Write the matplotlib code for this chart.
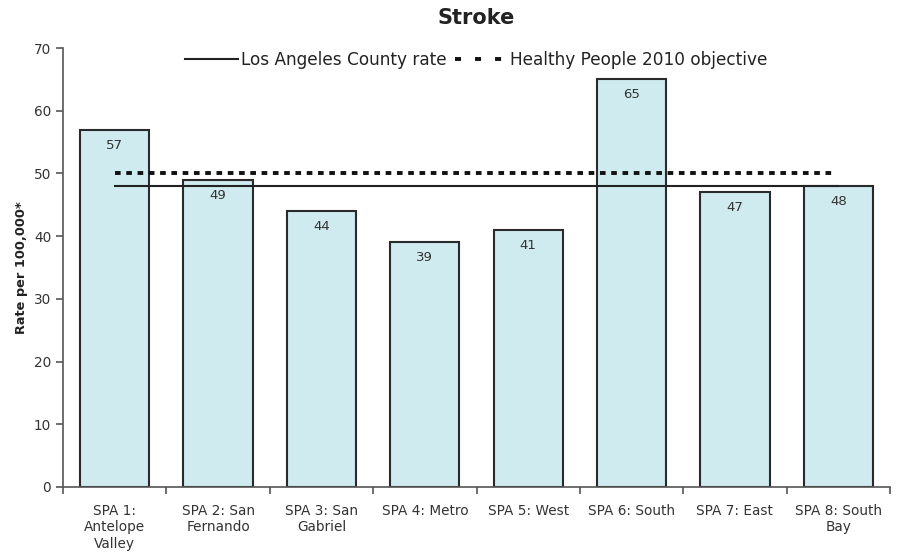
import matplotlib
matplotlib.use("Agg")
import matplotlib.pyplot as plt
from matplotlib.lines import Line2D
import numpy as np

categories = ["SPA 1:\nAntelope\nValley", "SPA 2: San\nFernando", "SPA 3: San\nGabriel",
              "SPA 4: Metro", "SPA 5: West", "SPA 6: South", "SPA 7: East", "SPA 8: South\nBay"]
values = [57, 49, 44, 39, 41, 65, 47, 48]
county_rate = 48
hp2010 = 50

plt.rcParams['font.family'] = ['DejaVu Sans']
fig = plt.figure(figsize=(9, 5.53), dpi=100)
ax = fig.add_axes([63/900, 1-487/553, (890-63)/900, (487-48)/553])

x = np.arange(len(categories))
bars = ax.bar(x, values, width=0.67, color="#cfebef", edgecolor="#2a2a2a", linewidth=1.5, zorder=2)
for xi, v in zip(x, values):
    ax.annotate(str(v), (xi, v), xytext=(0, -6.5), textcoords="offset points",
                ha="center", va="top", fontsize=9.5, color="#333333", zorder=4)

ax.plot([x[0], x[-1]], [county_rate, county_rate], color="#222222", lw=1.5, zorder=3)
ax.plot([x[0], x[-1] - 0.05], [hp2010, hp2010], color="#111111", lw=2.8, ls=(0, (1.45, 1.45)), zorder=3)

handles = [Line2D([], [], color="#222222", lw=1.5),
           Line2D([], [], color="#111111", lw=2.8, ls=(0, (1.55, 3.6)))]
labels = ["Los Angeles County rate", "Healthy People 2010 objective"]
leg = ax.legend(handles, labels, loc="center", bbox_to_anchor=(0.5, (487 - 60) / 439), ncol=2, frameon=False,
                fontsize=12.2, handlelength=3.1, handletextpad=0.18, columnspacing=0.5, labelcolor="#222222")

ax.set_xlim(-0.5, len(categories) - 0.5)
ax.set_ylim(0, 70)
ax.set_yticks(range(0, 71, 10))
ax.set_xticks(x)
ax.set_xticklabels(categories, fontsize=9.8, color="#333333", linespacing=1.25)
ax.tick_params(axis='x', length=0, pad=12)
ax.set_xticks(np.arange(-0.5, len(categories)), minor=True)
ax.tick_params(axis='x', which='minor', length=5, direction='out', color="#555555", width=1.2)
ax.tick_params(axis='y', length=5, direction='out', color="#555555", width=1.2, labelsize=9.8, labelcolor="#333333")

for s in ["top", "right"]:
    ax.spines[s].set_visible(False)
for s in ["left", "bottom"]:
    ax.spines[s].set_color("#555555")
    ax.spines[s].set_linewidth(1.2)

ax.set_ylabel("Rate per 100,000*", fontsize=9.3, fontweight="bold", color="#222222", labelpad=4)
fig.text(0.529, 0.968, "Stroke", ha="center", va="center", fontsize=15, fontweight="bold", color="#222222")

fig.savefig("out.png", dpi=100)
